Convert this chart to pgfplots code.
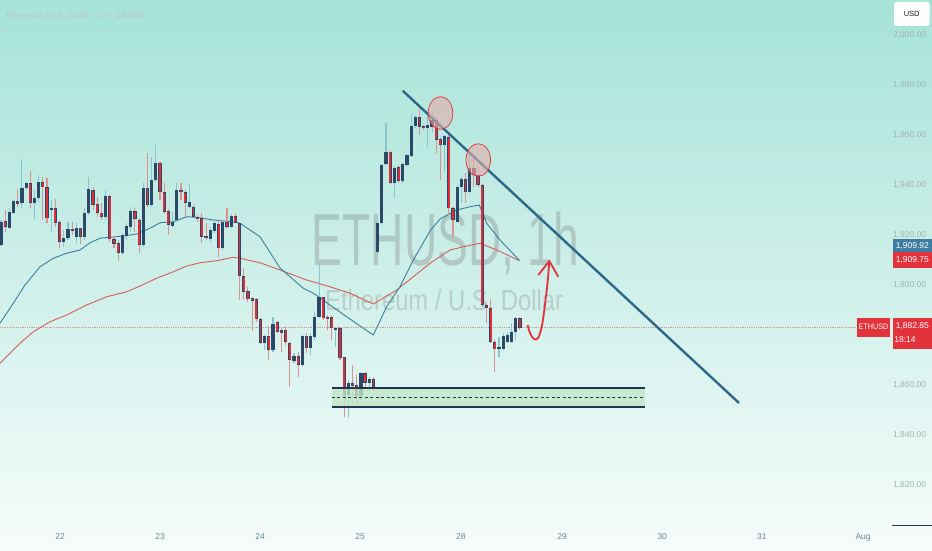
\documentclass[border=0pt]{standalone}
\usepackage{fontspec}
\setmainfont{Liberation Sans}
\usepackage{graphicx}
\usepackage{pgfplots}
\usepackage{pgfplotstable}
\pgfplotsset{compat=1.18}

\definecolor{upbody}{RGB}{44,72,104}
\definecolor{downbody}{RGB}{226,44,58}
\definecolor{upwick}{RGB}{135,198,204}
\definecolor{downwick}{RGB}{220,145,145}
\definecolor{maBlue}{RGB}{58,126,160}
\definecolor{maRed}{RGB}{214,92,92}
\definecolor{trend}{RGB}{46,104,138}
\definecolor{zoneline}{RGB}{30,55,80}
\definecolor{zonefill}{RGB}{192,230,200}
\definecolor{labBlue}{RGB}{62,125,160}
\definecolor{labRed}{RGB}{226,50,60}
\definecolor{bgTop}{RGB}{166,227,215}
\definecolor{bgBot}{RGB}{246,252,251}
\definecolor{ytxt}{RGB}{160,180,180}
\definecolor{xtxt}{RGB}{105,135,148}

\pgfplotstableread[row sep=\\]{
x o h l c\\
0 1916 1926 1915.6 1925.3\\
2 1922.7 1930.7 1922.3 1929.3\\
3 1928.9 1934 1928.4 1933.6\\
5 1932.7 1950.3 1930.7 1938.7\\
6 1938.7 1941.3 1938 1940.9\\
8 1932.7 1938 1926 1934.7\\
9 1934.7 1944 1933.3 1941.3\\
12 1930 1934 1921.3 1930.7\\
15 1917.3 1922 1915.3 1919\\
16 1918.7 1925.3 1918 1922.3\\
18 1919.1 1924.7 1917 1922.7\\
20 1919.3 1930.7 1918 1928.9\\
21 1928.9 1943.3 1928 1938.3\\
25 1927.3 1938 1926 1935.6\\
29 1912.9 1920.7 1912 1920\\
30 1919.6 1924.7 1918 1923.6\\
31 1923.1 1931.3 1921.3 1929.6\\
34 1916 1940.7 1915.3 1938.7\\
36 1932 1951.3 1931.3 1942\\
37 1942 1956 1941.3 1948.9\\
41 1923.6 1929.3 1923.3 1925.3\\
42 1926 1940.9 1925.3 1938\\
45 1931.3 1940.9 1930.7 1933.3\\
50 1918.3 1923.1 1917.3 1922\\
51 1921.7 1925.3 1920.9 1924.7\\
53 1914.7 1926 1914 1925.3\\
55 1923.1 1928.4 1922.7 1927.6\\
63 1876.9 1880 1874 1879.6\\
65 1874 1887.3 1873.3 1884.4\\
70 1869.7 1872.7 1868.7 1871.6\\
72 1868 1880 1867.3 1879.6\\
74 1874.7 1880.7 1872 1879.6\\
75 1879.3 1889.3 1878 1887.1\\
76 1887.1 1908.7 1886.7 1895.1\\
80 1882.3 1883 1875.3 1882.7\\
83 1856 1862 1846.7 1860.9\\
86 1855.6 1865.3 1854 1864.9\\
88 1860.9 1863.3 1856.7 1862.3\\
90 1913.3 1925 1912.4 1924.7\\
91 1924.7 1948.4 1924 1948\\
92 1948.4 1964.9 1948 1953.3\\
94 1940.9 1947.6 1934.7 1946.7\\
96 1941.7 1948.9 1940.9 1948.4\\
97 1948 1952.4 1947.1 1952\\
98 1951.6 1968.4 1951.3 1963.6\\
99 1963.6 1968 1962.7 1967.3\\
102 1962.7 1968.7 1955.3 1964\\
103 1963.3 1970 1961 1966\\
106 1956 1960 1945 1959.6\\
109 1925.3 1940 1924.7 1939.3\\
110 1939.1 1943.1 1932.7 1942.3\\
112 1937.3 1952.7 1936.7 1946.7\\
119 1874.3 1879.3 1871.3 1875.3\\
120 1874.3 1880.7 1874 1879.6\\
121 1877.3 1881.3 1877 1880\\
122 1877.3 1885 1876.9 1881.3\\
123 1881.3 1887.3 1878 1886.7\\
}\upcandles

\pgfplotstableread[row sep=\\]{
x o h l c\\
1 1925.6 1930 1921.3 1923.3\\
4 1933.6 1938.3 1931.3 1932.4\\
7 1940.9 1945.7 1930.7 1932.9\\
10 1941.3 1943.3 1926 1939.1\\
11 1939.1 1942.9 1925 1926.7\\
13 1930.7 1934.3 1923.3 1925\\
14 1925.1 1926 1914.7 1917.3\\
17 1922.3 1925.3 1920 1921.6\\
19 1922.7 1923 1916.4 1919.3\\
22 1938 1939.3 1930 1932\\
23 1932.4 1935.3 1927.3 1928.9\\
24 1928.9 1932.7 1926 1927.1\\
26 1935.6 1936 1917.3 1918.3\\
27 1918.3 1919.6 1914.7 1916.4\\
28 1916.7 1918 1909.7 1912.9\\
32 1929.6 1930.7 1921.3 1926.3\\
33 1926 1926.7 1912.7 1916\\
35 1938.7 1952.7 1931.3 1932\\
38 1948.9 1949.3 1934 1937.3\\
39 1937.3 1940.9 1928.4 1929.3\\
40 1929.7 1930.3 1920 1924\\
43 1938 1940.7 1934 1937.3\\
44 1937.3 1938 1927.3 1932.9\\
46 1931.3 1932 1927.1 1927.3\\
47 1927.3 1928 1925.3 1926.3\\
48 1926.7 1928.7 1916.7 1919.3\\
49 1919.6 1924.9 1918 1918.7\\
52 1924.4 1926 1911.1 1914.7\\
54 1925.3 1930.7 1922.7 1923.1\\
56 1927.6 1928.7 1924.7 1924.9\\
57 1924.9 1925.3 1894 1903.6\\
58 1903.6 1906.7 1894 1897.3\\
59 1897.7 1899.3 1893.3 1894.3\\
60 1894.9 1895.3 1881.7 1893.7\\
61 1894.3 1894.7 1885.3 1886.3\\
62 1886.3 1886.7 1876.4 1876.9\\
64 1879.6 1883.6 1870 1874\\
66 1885.3 1885.7 1880.7 1881.3\\
67 1882 1883.3 1873.3 1880.9\\
68 1882 1883.3 1876 1877.3\\
69 1876.9 1877.3 1859.1 1870\\
71 1871.6 1873.3 1863.3 1868\\
73 1879.6 1880.7 1872.7 1874.7\\
77 1895.1 1895.3 1886 1886.7\\
78 1887.1 1888 1882 1886.3\\
79 1887.1 1888 1878 1882.7\\
81 1882.7 1883.3 1870 1870.7\\
82 1871.3 1871.3 1847.3 1855.6\\
84 1860.9 1868 1852.7 1859.6\\
85 1860 1864 1852 1855.6\\
87 1864.9 1865.3 1859.3 1860.9\\
89 1862.3 1863.1 1858 1858.9\\
93 1953.3 1953.7 1940.4 1940.9\\
95 1947.1 1948 1940.7 1941.7\\
100 1967.3 1970.7 1960 1963.3\\
101 1963.6 1964 1962 1962.9\\
104 1966 1967.3 1953 1958\\
105 1958.3 1959.3 1942 1956\\
107 1959.3 1960.7 1928 1930.7\\
108 1930.7 1931.3 1919.3 1926\\
111 1942.3 1944.7 1932.7 1937.3\\
113 1946.7 1950.7 1939.3 1944\\
114 1944 1947.3 1939.3 1940\\
115 1940 1940.4 1891.3 1892\\
116 1892 1892.7 1885 1890.7\\
117 1890.7 1894.3 1876.7 1877.3\\
118 1877.3 1878.3 1865.3 1874.3\\
124 1886.7 1887.3 1882 1882.85\\
}\downcandles

\begin{document}
\begin{tikzpicture}
\path[use as bounding box] (0,0) rectangle (932pt,550pt);
\shade[top color=bgTop, bottom color=bgBot] (0,0) rectangle (932pt,550pt);
% watermark
\node[anchor=base west, inner sep=0, text=black!55, text opacity=0.3] at (311.7pt,285pt)
  {\scalebox{0.624}[1]{\fontsize{74}{74}\selectfont ETHUSD, 1h}};
\node[anchor=base west, inner sep=0, text=black!55, text opacity=0.27] at (325pt,240pt)
  {\scalebox{0.82}[1]{\fontsize{29}{29}\selectfont Ethereum / U.S. Dollar}};
\node[anchor=base west, inner sep=0, text={rgb,255:red,180;green,208;blue,202}] at (6pt,531.7pt)
  {\scalebox{0.9}[1]{\fontsize{9}{9}\selectfont\bfseries Ethereum / U.S. Dollar · 1h · OANDA}};

\begin{axis}[
  at={(0pt,25pt)}, anchor=south west, scale only axis,
  width=888pt, height=525pt,
  xmin=-0.24, xmax=211.95, ymin=1804, ymax=2014,
  axis line style={draw=none}, major tick length=0pt,
  xtick={14.1,38.0,61.9,85.8,109.9,134.1,158.0,181.8,206.0},
  xticklabels={22,23,24,25,28,29,30,31,Aug},
  xticklabel style={font=\fontsize{8.5}{9}\selectfont, text=xtxt, yshift=-5pt},
  ytick={1820,1840,1860,1900,1920,1940,1960,1980,2000},
  yticklabel pos=right,
  yticklabel style={font=\fontsize{8.5}{9}\selectfont, text=ytxt, anchor=west, xshift=1.5pt,
    /pgf/number format/fixed, /pgf/number format/fixed zerofill,
    /pgf/number format/precision=2, /pgf/number format/1000 sep={,},
    /pgf/number format/assume math mode=true},
]
% current price dotted line
\addplot[color={rgb,255:red,215;green,150;blue,140}, densely dotted, line width=0.8pt] coordinates {(-0.24,1882.85) (211.95,1882.85)};

% moving averages
\addplot[color=maRed, line width=0.9pt] coordinates {
(-0.24,1868.7) (4.54,1876.7) (7.72,1881.3) (11.71,1885.3) (15.70,1888) (20.48,1892)
(25.26,1895.3) (30.04,1897.3) (33.21,1899.6) (37.20,1902.7) (41.17,1905.3) (44.37,1907.6)
(47.55,1908.9) (51.54,1909.7) (55.51,1911.1) (57.11,1910.7) (61.89,1908.9) (66.67,1906)
(73.05,1902) (78.61,1899.3) (83.39,1896.7) (88.96,1892.4) (94.55,1898) (98.52,1903.3)
(102.51,1908.7) (107.29,1914) (110.47,1915.3) (114.46,1916.7) (118.45,1914) (123.85,1909.75)};
\addplot[color=maBlue, line width=0.9pt] coordinates {
(-0.24,1884.7) (2.94,1892.7) (5.73,1900) (9.32,1907.3) (12.50,1910.7) (15.70,1912.7)
(18.88,1914) (21.27,1916.9) (23.66,1918.7) (26.05,1919.1) (29.22,1919.6) (32.43,1920.4)
(35.60,1922.7) (37.99,1924.9) (41.17,1925.3) (44.37,1927.3) (46.76,1927.1) (50.73,1926)
(55.51,1925.3) (57.11,1924.7) (61.89,1919.3) (66.67,1906.8) (72.16,1898.8) (74.55,1896.8)
(78.61,1892) (82.60,1887.3) (85.78,1883.6) (88.96,1880) (92.16,1891.3) (95.34,1899.3)
(98.52,1910) (102.51,1921.6) (104.90,1926.4) (108.89,1930) (112.07,1931.3) (114.29,1932)
(116.06,1924.7) (119.23,1918) (123.85,1909.92)};

% wicks
\addplot[draw=none, mark=none, forget plot,
  error bars/.cd, y dir=both, y explicit, error mark=none,
  error bar style={line width=1.1pt, draw=upwick}]
  table[x=x, y expr={(\thisrow{h}+\thisrow{l})/2}, y error expr={(\thisrow{h}-\thisrow{l})/2}] {\upcandles};
\addplot[draw=none, mark=none, forget plot,
  error bars/.cd, y dir=both, y explicit, error mark=none,
  error bar style={line width=1.1pt, draw=downwick}]
  table[x=x, y expr={(\thisrow{h}+\thisrow{l})/2}, y error expr={(\thisrow{h}-\thisrow{l})/2}] {\downcandles};
% bodies
\addplot[draw=none, mark=none, forget plot,
  error bars/.cd, y dir=both, y explicit, error mark=none,
  error bar style={line width=3.2pt, draw=upbody}]
  table[x=x, y expr={(\thisrow{o}+\thisrow{c})/2}, y error expr={max(abs(\thisrow{c}-\thisrow{o})/2,0.3)}] {\upcandles};
\addplot[draw=none, mark=none, forget plot,
  error bars/.cd, y dir=both, y explicit, error mark=none,
  error bar style={line width=3.2pt, draw=upbody}]
  table[x=x, y expr={(\thisrow{o}+\thisrow{c})/2}, y error expr={max(abs(\thisrow{c}-\thisrow{o})/2,0.3)}] {\downcandles};
\addplot[draw=none, mark=none, forget plot,
  error bars/.cd, y dir=both, y explicit, error mark=none,
  error bar style={line width=1.9pt, draw=downbody}]
  table[x=x, y expr={(\thisrow{o}+\thisrow{c})/2}, y error expr={max(abs(\thisrow{c}-\thisrow{o})/2-0.3,0.01)}] {\downcandles};

% support zone
\fill[zonefill, opacity=0.8] (axis cs:79.02,1851.3) rectangle (axis cs:153.9,1858.7);
\addplot[color=zoneline, line width=2.2pt] coordinates {(79.02,1858.7) (153.9,1858.7)};
\addplot[color=zoneline, line width=2.2pt] coordinates {(79.02,1851.3) (153.9,1851.3)};
\addplot[color=zoneline, line width=0.8pt, dash pattern=on 3pt off 2.5pt] coordinates {(79.02,1855.1) (153.9,1855.1)};

% trendline
\addplot[color=trend, line width=2.4pt] coordinates {(96.0,1977.7) (176.35,1852.8)};

% ellipses
\draw[color=labRed, line width=0.7pt, fill={rgb,255:red,228;green,172;blue,170}, fill opacity=0.6]
  (axis cs:105.02,1968.8) ellipse [x radius=12.3pt, y radius=16.3pt];
\draw[color=labRed, line width=0.7pt, fill={rgb,255:red,228;green,172;blue,170}, fill opacity=0.6]
  (axis cs:114.05,1950.0) ellipse [x radius=12.3pt, y radius=16.3pt];

% red arrow
\addplot[color=labRed, line width=1.8pt, smooth, tension=0.6] coordinates {
(125.86,1884) (126.40,1880.8) (127.36,1878.4) (128.32,1878.8) (129.15,1882.8)
(129.63,1887.6) (130.11,1894) (130.59,1900.8) (131.02,1909.2)};
\addplot[color=labRed, line width=1.8pt, line join=round] coordinates {
(128.39,1904) (131.02,1909.6) (133.17,1903.3)};
\end{axis}

% right-hand labels
\draw[fill=white, draw=none, rounded corners=2.5pt] (894pt,524pt) rectangle (929.5pt,548pt);
\node[text={rgb,255:red,19;green,23;blue,34}] at (911.7pt,536pt) {\fontsize{7.5}{8}\selectfont USD};
\fill[labBlue] (892.6pt,298pt) rectangle (932pt,310.7pt);
\node[text=white, inner sep=0] at (912.3pt,304.3pt) {\fontsize{8.5}{9}\selectfont 1,909.92};
\fill[labRed] (892.6pt,281.6pt) rectangle (932pt,298pt);
\node[text=white, inner sep=0] at (912.3pt,289.8pt) {\fontsize{8.5}{9}\selectfont 1,909.75};
\fill[labRed] (856.8pt,213.2pt) rectangle (890.2pt,232.5pt);
\node[text=white, inner sep=0] at (873.5pt,222.8pt) {\scalebox{0.9}[1]{\fontsize{8}{9}\selectfont ETHUSD}};
\fill[labRed] (892.6pt,200.9pt) rectangle (932pt,232.5pt);
\node[text=white, inner sep=0] at (912.3pt,224pt) {\fontsize{8.5}{9}\selectfont 1,882.85};
\node[text=white, inner sep=0] at (905pt,210pt) {\fontsize{8.5}{9}\selectfont 18:14};
\draw[color=zoneline, line width=1pt] (892pt,24.7pt) -- (932pt,24.7pt);
\end{tikzpicture}
\end{document}
